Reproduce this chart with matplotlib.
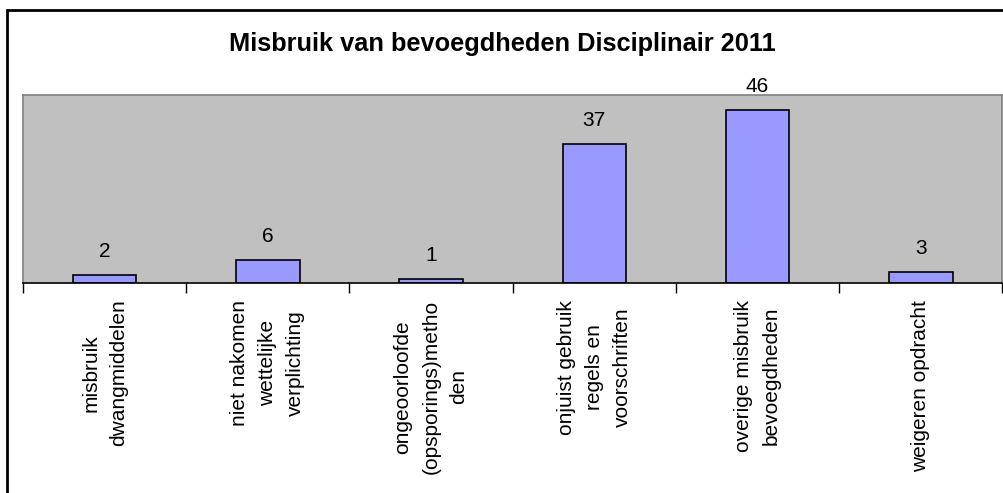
import matplotlib
matplotlib.use('Agg')
import matplotlib.pyplot as plt
import matplotlib.patches as patches
import numpy as np

# Chart data.
categories = ['misbruik\ndwangmiddelen', 'niet nakomen\nwettelijke\nverplichting',
              'ongeoorloofde\n(opsporings)metho\nden', 'onjuist gebruik\nregels en\nvoorschriften',
              'overige misbruik\nbevoegdheden', 'weigeren opdracht']
counts = [2, 6, 1, 37, 46, 3]
title = 'Misbruik van bevoegdheden Disciplinair 2011'


def main(saveLocation):
    plt.rcParams['font.family'] = ['Liberation Sans', 'DejaVu Sans']

    W, H = 1004, 493
    fig = plt.figure(figsize=(W / 100, H / 100), dpi=100)
    fig.patch.set_facecolor('white')

    # Outer chart border (only left and top are visible in the picture).
    border = patches.Rectangle((6.5 / W, -0.1), 1.2, (H - 10.5) / H + 0.1,
                               transform=fig.transFigure, fill=False,
                               edgecolor='black', linewidth=2, clip_on=False)
    fig.patches.append(border)

    left, right, top, bottom = 23, 1002.5, 95, 283
    axes = fig.add_axes([left / W, (H - bottom) / H, (right - left) / W, (bottom - top) / H])
    axes.set_facecolor('#C0C0C0')

    x = np.arange(len(categories))
    axes.bar(x, counts, width=0.39, color='#9999FF', edgecolor='black', linewidth=1.2, zorder=2)

    for xi, v in zip(x, counts):
        axes.annotate(str(v), xy=(xi, v), xytext=(0, 17), textcoords='offset points',
                      ha='center', va='center', fontsize=15, annotation_clip=False)

    axes.set_xlim(-0.5, len(categories) - 0.5)
    axes.set_ylim(0, 50)
    axes.set_yticks([])

    axes.set_xticks(x)
    axes.set_xticklabels(categories, rotation=90, fontsize=15, multialignment='center', linespacing=1.6)
    axes.tick_params(axis='x', which='major', length=0, pad=12)
    axes.set_xticks(np.arange(-0.5, len(categories)), minor=True)
    axes.tick_params(axis='x', which='minor', length=7, width=1, color='black', direction='out')

    for side in ['top', 'left', 'right']:
        axes.spines[side].set_color('#808080')
        axes.spines[side].set_linewidth(1.2)
    axes.spines['bottom'].set_color('black')
    axes.spines['bottom'].set_linewidth(1.2)

    fig.text(0.5, 1 - 44 / H, title, ha='center', va='center', fontsize=18.3, fontweight='bold')

    plt.savefig(saveLocation, dpi=100)


if __name__ == '__main__':
    main('out.png')
